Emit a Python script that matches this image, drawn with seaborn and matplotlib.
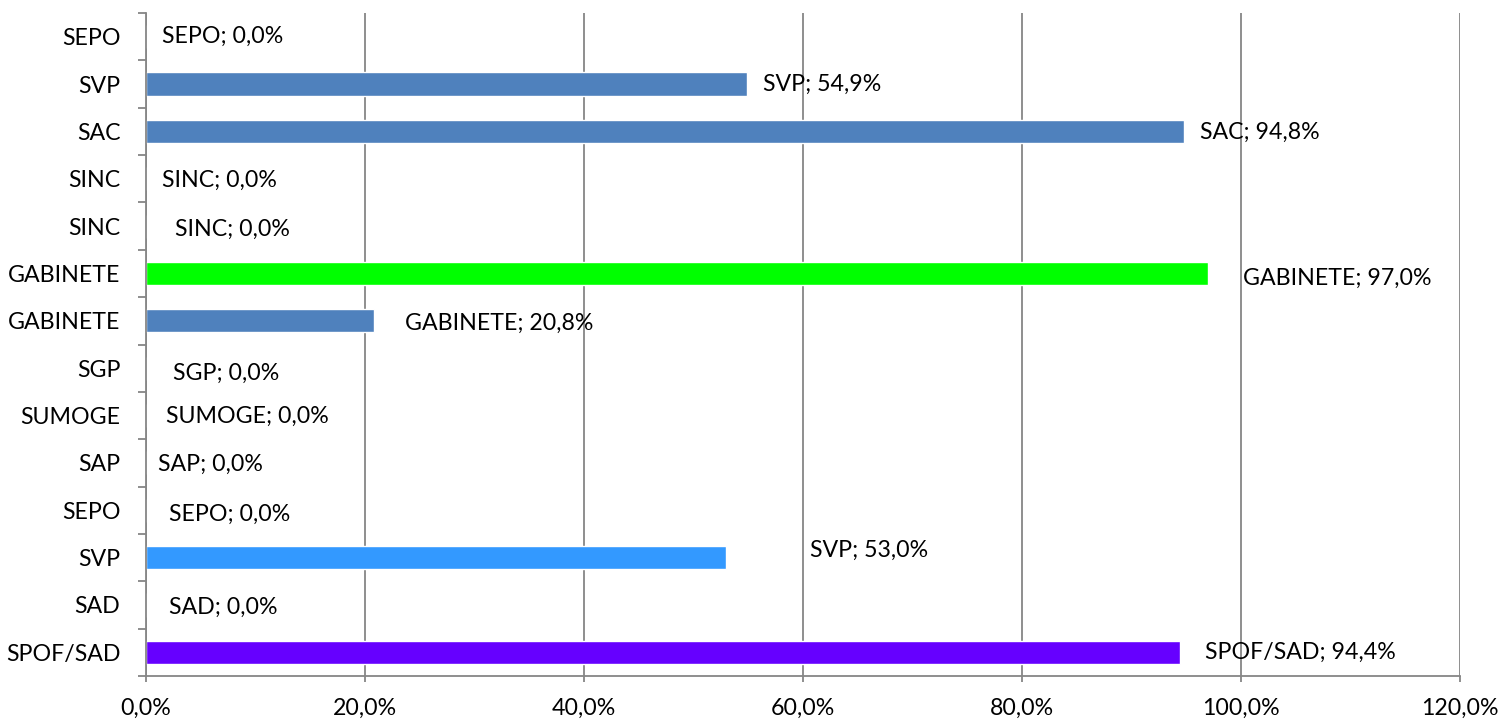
import matplotlib
matplotlib.use("Agg")
import matplotlib.pyplot as plt
import seaborn as sns
import pandas as pd
import numpy as np

# ---- data (top to bottom) ----
categories = ["SEPO", "SVP", "SAC", "SINC", "SINC", "GABINETE", "GABINETE",
              "SGP", "SUMOGE", "SAP", "SEPO", "SVP", "SAD", "SPOF/SAD"]
values = [0.0, 54.9, 94.8, 0.0, 0.0, 97.0, 20.8, 0.0, 0.0, 0.0, 0.0, 53.0, 0.0, 94.4]
bar_colors = ["#4F81BD", "#4F81BD", "#4F81BD", "#4F81BD", "#4F81BD", "#00FF00", "#4F81BD",
              "#4F81BD", "#4F81BD", "#4F81BD", "#4F81BD", "#3399FF", "#4F81BD", "#6600FF"]
x_ticks = [0, 20, 40, 60, 80, 100, 120]

# label placement offsets in pixels (dx right, dy up) - layout only
label_offsets = [(16, 0), (16, 0), (16, -1), (16, -2), (29, -3), (35, -5), (31, -3),
                 (27, -5), (20, -1), (12, -1), (23, -4), (84, 7), (23, -2), (25, 0)]

sns.set_theme(style="white")
plt.rcParams['font.family'] = ['Lato', 'DejaVu Sans']
FS = 16.7

keys = [f"k{i}" for i in range(len(categories))]
df = pd.DataFrame({"key": keys, "value": values})

fig = plt.figure(figsize=(15.04, 7.21), dpi=100)
ax = fig.add_axes([146 / 1504, 1 - 676 / 721, (1460 - 146) / 1504, (676 - 13) / 721])

sns.barplot(data=df, x="value", y="key", hue="key", palette=bar_colors, order=keys,
            hue_order=keys, orient="h", width=0.49, legend=False, ax=ax, saturation=1)

ax.set_xlim(0, 120)
ax.set_ylim(len(categories) - 0.5, -0.5)
ax.set_xticks(x_ticks)
ax.set_xticklabels([f"{t:.1f}%".replace(".", ",") for t in x_ticks])
ax.set_yticks(range(len(categories)))
ax.set_yticklabels(categories)
ax.set_yticks(np.arange(-0.5, len(categories), 1.0), minor=True)
ax.set_xlabel("")
ax.set_ylabel("")

grid_c = "#868686"
ax.xaxis.grid(True, color=grid_c, linewidth=1.3)
ax.set_axisbelow(True)
for s in ["top", "right"]:
    ax.spines[s].set_visible(False)
for s in ["left", "bottom"]:
    ax.spines[s].set_color(grid_c)
    ax.spines[s].set_linewidth(1.3)

ax.tick_params(axis="y", which="major", length=0, pad=18.5, labelsize=FS, colors="black")
ax.tick_params(axis="y", which="minor", length=6, width=1.3, color=grid_c, direction="out", left=True)
ax.tick_params(axis="x", which="major", length=4, width=1.3, color=grid_c, direction="out",
               bottom=True, pad=12, labelsize=FS, labelcolor="black")

for i, (cat, v) in enumerate(zip(categories, values)):
    dx, dy = label_offsets[i]
    ax.annotate(f"{cat}; {v:.1f}%".replace(".", ","), xy=(v, i), xytext=(dx, dy),
                textcoords="offset pixels", ha="left", va="center", fontsize=FS, color="black")

fig.savefig("out.png", dpi=100)
